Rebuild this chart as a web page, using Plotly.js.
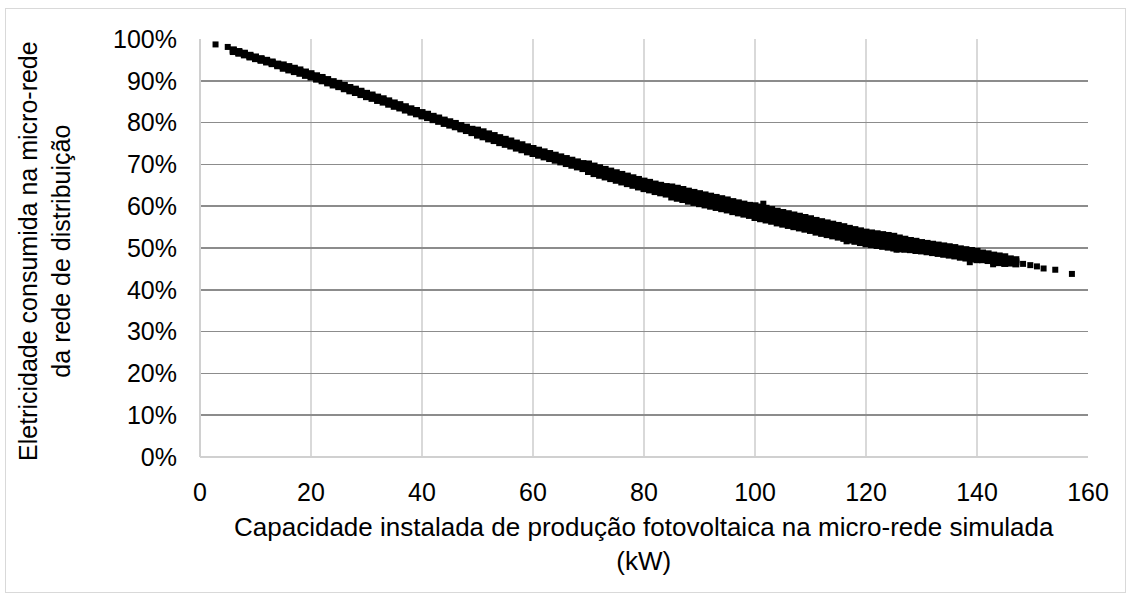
<!DOCTYPE html>
<html>
<head>
<meta charset="utf-8">
<script src="https://cdn.plot.ly/plotly-3.0.1.min.js"></script>
<style>
  html, body { margin: 0; padding: 0; background: #ffffff; }
  #frame { position: absolute; left: 5px; top: 8px; width: 1121px; height: 585px; border: 1px solid #d9d9d9; box-sizing: border-box; }
  #chart { position: absolute; left: 0; top: 0; width: 1132px; height: 601px; }
</style>
</head>
<body>
<div id="frame"></div>
<div id="chart"></div>
<script>
// Installed PV capacity of the simulated micro-grid (kW)
const capacidadeKW = [
  6,7,8,9,10,11,12,13,14,15,16,17,18,19,20,21,22,23,24,25,26,27,28,29,30,
  31,32,33,34,35,36,37,38,39,40,41,42,43,44,45,46,47,48,49,50,51,52,53,54,55,
  56,57,58,59,60,61,62,63,64,65,66,67,68,69,70,71,72,73,74,75,76,77,78,79,80,
  81,82,83,84,85,86,87,88,89,90,91,92,93,94,95,96,97,98,99,100,101,102,103,104,105,
  106,107,108,109,110,111,112,113,114,115,116,117,118,119,120,121,122,123,124,125,
  126,127,128,129,130,131,132,133,134,135,136,137,138,139,140,141,142,143,144,145,146,147
];

// Share of electricity drawn from the distribution grid (%): upper edge of the cloud
const parcelaSuperior = [
  97.4,97.0,96.6,96.1,95.7,95.3,94.9,94.5,94.0,93.8,93.4,93.0,92.6,92.1,91.7,91.2,90.8,90.3,89.8,89.4,88.9,88.4,88.0,87.5,87.0,
  86.6,86.1,85.7,85.2,84.7,84.3,83.8,83.3,82.9,82.4,82.0,81.5,81.1,80.6,80.2,79.8,79.3,78.9,78.4,78.2,77.8,77.3,76.9,76.4,76.0,
  75.6,75.1,74.7,74.2,73.8,73.4,73.0,72.6,72.2,71.8,71.4,71.0,70.6,70.2,70.1,69.6,69.2,68.8,68.4,68.0,67.6,67.2,66.8,66.4,66.0,
  65.7,65.3,65.0,64.7,64.6,64.3,64.0,63.6,63.3,63.0,62.7,62.4,62.1,61.8,61.5,61.1,60.8,60.5,60.2,60.1,59.8,59.5,59.2,58.8,58.5,
  58.2,57.9,57.6,57.3,57.0,56.6,56.3,56.0,55.7,55.4,55.1,54.7,54.4,54.1,53.8,53.6,53.4,53.2,53.0,52.8,
  52.4,52.1,51.8,51.6,51.3,51.1,50.9,50.7,50.5,50.3,50.1,49.8,49.6,49.4,49.2,48.8,48.6,48.3,48.1,47.9,47.4,47.2
];

// Share of electricity drawn from the distribution grid (%): core of the cloud
const parcelaCentral = [
  97.2,96.8,96.4,95.9,95.5,95.1,94.7,94.3,93.8,93.4,93.0,92.6,92.2,91.7,91.3,90.8,90.4,89.9,89.4,89.0,88.5,88.0,87.6,87.1,86.6,
  86.2,85.7,85.3,84.8,84.3,83.9,83.4,82.9,82.5,82.0,81.6,81.1,80.7,80.2,79.8,79.4,78.9,78.5,78.0,77.6,77.2,76.7,76.3,75.8,75.4,
  75.0,74.5,74.1,73.6,73.2,72.8,72.4,72.0,71.6,71.2,70.8,70.4,70.0,69.6,69.2,68.7,68.3,67.9,67.5,67.1,66.7,66.3,65.9,65.5,65.1,
  64.8,64.4,64.1,63.8,63.4,63.1,62.8,62.4,62.1,61.8,61.5,61.2,60.9,60.6,60.3,59.9,59.6,59.3,59.0,58.7,58.4,58.1,57.8,57.4,57.1,
  56.8,56.5,56.2,55.9,55.6,55.2,54.9,54.6,54.3,54.0,53.7,53.3,53.0,52.7,52.4,52.2,52.0,51.8,51.6,51.4,
  51.1,50.9,50.7,50.5,50.3,50.1,49.9,49.7,49.5,49.3,49.1,48.8,48.6,48.4,48.2,48.0,47.8,47.5,47.3,47.1,46.9,46.7
];

// Share of electricity drawn from the distribution grid (%): lower edge of the cloud
const parcelaInferior = [
  97.0,96.6,96.2,95.7,95.3,94.9,94.5,94.1,93.6,93.0,92.6,92.2,91.8,91.3,90.9,90.4,90.0,89.5,89.0,88.6,88.1,87.6,87.2,86.7,86.2,
  85.8,85.3,84.9,84.4,83.9,83.5,83.0,82.5,82.1,81.6,81.2,80.7,80.3,79.8,79.4,79.0,78.5,78.1,77.6,77.0,76.6,76.1,75.7,75.2,74.8,
  74.4,73.9,73.5,73.0,72.6,72.2,71.8,71.4,71.0,70.6,70.2,69.8,69.4,69.0,68.3,67.8,67.4,67.0,66.6,66.2,65.8,65.4,65.0,64.6,64.2,
  63.9,63.5,63.2,62.9,62.2,61.9,61.6,61.2,60.9,60.6,60.3,60.0,59.7,59.4,59.1,58.7,58.4,58.1,57.8,57.3,57.0,56.7,56.4,56.0,55.7,
  55.4,55.1,54.8,54.5,54.2,53.8,53.5,53.2,52.9,52.6,52.3,51.9,51.6,51.3,51.0,50.8,50.6,50.4,50.2,50.0,
  49.8,49.7,49.6,49.4,49.3,49.1,48.9,48.7,48.5,48.3,48.1,47.8,47.6,47.4,47.2,47.2,47.0,46.7,46.5,46.3,46.4,46.2
];

// Isolated simulations (smallest and largest installations, stray runs)
const isoladosKW = [2.8, 5.0, 101.5, 116.5, 125.5, 138.7, 142.9, 148.3, 149.6, 150.8, 152.0, 154.1, 157.1];
const isoladosParcela = [98.7, 98.1, 60.6, 51.6, 49.6, 46.6, 46.1, 46.2, 45.9, 45.6, 45.1, 44.8, 43.8];

const yTicks = [0, 10, 20, 30, 40, 50, 60, 70, 80, 90, 100];
const xTicks = [0, 20, 40, 60, 80, 100, 120, 140, 160];

const FONT = 'Liberation Sans, Arial, sans-serif';

function serie(x, y, size) {
  return {
    type: 'scatter', mode: 'markers', x: x, y: y,
    marker: { symbol: 'square', size: size, color: '#000000', line: { width: 0 } },
    hoverinfo: 'x+y', showlegend: false, cliponaxis: false
  };
}

const data = [
  serie(capacidadeKW, parcelaSuperior, 7),
  serie(capacidadeKW, parcelaCentral, 7),
  serie(capacidadeKW, parcelaInferior, 7),
  serie(isoladosKW, isoladosParcela, 6)
];

const layout = {
  width: 1132,
  height: 601,
  margin: { l: 200, r: 44, t: 39, b: 144, pad: 0 },
  paper_bgcolor: 'rgba(0,0,0,0)',
  plot_bgcolor: '#ffffff',
  font: { family: FONT, size: 25, color: '#000000' },
  showlegend: false,
  xaxis: {
    range: [0, 160],
    tickvals: xTicks,
    ticktext: xTicks.map(String),
    ticks: '',
    ticklabelstandoff: 18,
    showgrid: true,
    gridcolor: '#d9d9d9',
    gridwidth: 1.5,
    zeroline: true,
    zerolinecolor: '#d0d0d0',
    zerolinewidth: 1.5,
    showline: false,
    fixedrange: true
  },
  yaxis: {
    range: [0, 100],
    tickvals: yTicks,
    ticktext: yTicks.map(v => v + '%'),
    ticks: '',
    ticklabelstandoff: 22,
    showgrid: true,
    gridcolor: '#8c8c8c',
    gridwidth: 1.5,
    zeroline: true,
    zerolinecolor: '#d0d0d0',
    zerolinewidth: 1.5,
    showline: false,
    fixedrange: true
  },
  annotations: [
    {
      xref: 'paper', yref: 'paper', x: -0.1745, y: 0.493,
      xanchor: 'center', yanchor: 'middle', textangle: -90, showarrow: false,
      text: 'Eletricidade consumida na micro-rede<br>da rede de distribuição',
      font: { family: FONT, size: 25, color: '#000000' }
    },
    {
      xref: 'paper', yref: 'paper', x: 0.5, y: -0.208,
      xanchor: 'center', yanchor: 'middle', showarrow: false,
      text: 'Capacidade instalada de produção fotovoltaica na micro-rede simulada<br>(kW)',
      font: { family: FONT, size: 26, color: '#000000' }
    }
  ]
};

Plotly.newPlot('chart', data, layout, { displayModeBar: false, staticPlot: true });
</script>
</body>
</html>
